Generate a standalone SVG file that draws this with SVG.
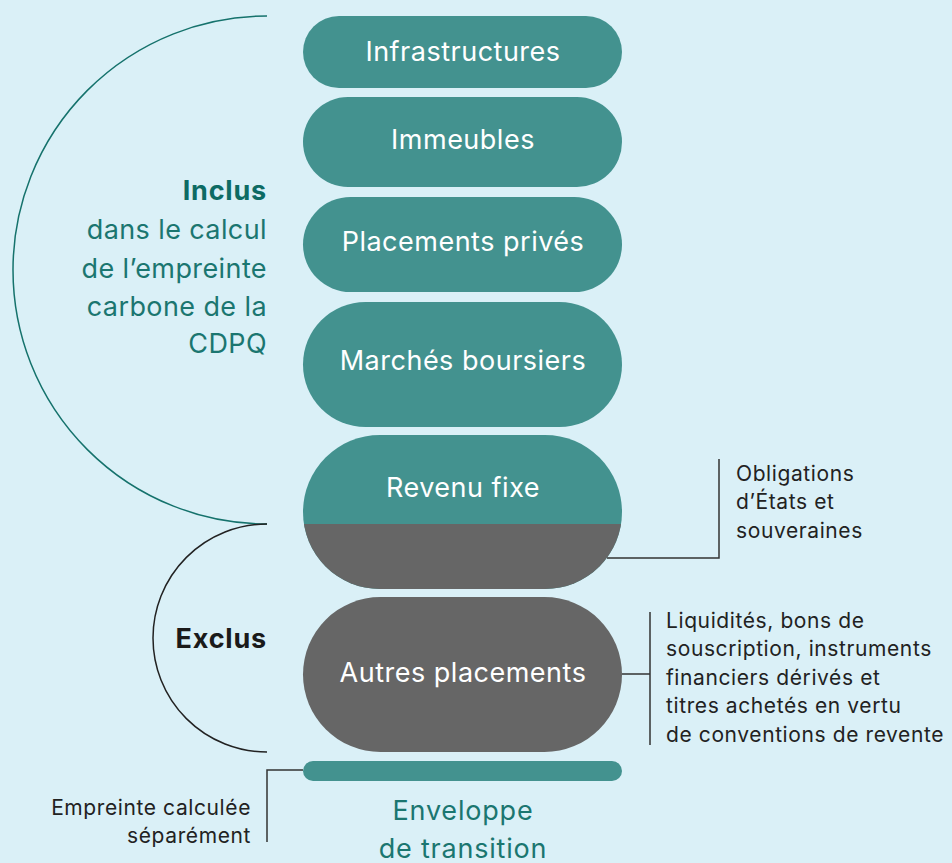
<svg xmlns="http://www.w3.org/2000/svg" width="952" height="863" viewBox="0 0 952 863">
<style>
.pill{fill:#43928f}
.grey{fill:#666666}
.pl{font-family:Inter,"Noto Sans",sans-serif;font-size:27px;letter-spacing:0.5px;fill:#ffffff;text-anchor:middle}
.note{font-family:Inter,"Noto Sans",sans-serif;font-size:21px;letter-spacing:0.6px;fill:#222222}
.side{font-family:Inter,"Noto Sans",sans-serif;font-size:27px;letter-spacing:0.4px;fill:#1b7670;text-anchor:end}
.env{font-family:Inter,"Noto Sans",sans-serif;font-size:27px;letter-spacing:0.8px;fill:#1b7670;text-anchor:middle}
.ln{fill:none;stroke:#333333;stroke-width:1.5}
</style>
<defs>
<clipPath id="rfclip"><rect x="303" y="435" width="319" height="154" rx="77"/></clipPath>
</defs>
<rect x="0" y="0" width="952" height="863" fill="#daf0f7"/>
<g id="connectors">
<path d="M267,16 A254,254 0 0 0 267,524" fill="none" stroke="#15726c" stroke-width="1.5"/>
<path d="M267,524 A114,114 0 0 0 267,752" fill="none" stroke="#222222" stroke-width="1.5"/>
<path class="ln" d="M607,558 H719 V459"/>
<path class="ln" d="M622,674 H650 M650,612 V745"/>
<path class="ln" d="M303,770 H267 V842"/>
</g>
<g id="infrastructures">
<rect class="pill" x="303" y="16" width="319" height="72" rx="36"/>
<text class="pl" x="463" y="61">Infrastructures</text>
</g>
<g id="immeubles">
<rect class="pill" x="303" y="97" width="319" height="90" rx="45"/>
<text class="pl" x="463" y="149">Immeubles</text>
</g>
<g id="placements-prives">
<rect class="pill" x="303" y="197" width="319" height="95" rx="47.5"/>
<text class="pl" x="463" y="251">Placements privés</text>
</g>
<g id="marches-boursiers">
<rect class="pill" x="303" y="302" width="319" height="125" rx="62.5"/>
<text class="pl" x="463" y="370">Marchés boursiers</text>
</g>
<g id="revenu-fixe">
<rect class="pill" x="303" y="435" width="319" height="154" rx="77"/>
<rect class="grey" x="303" y="524" width="319" height="65" clip-path="url(#rfclip)"/>
<text class="pl" x="463" y="497">Revenu fixe</text>
</g>
<g id="autres-placements">
<rect class="grey" x="303" y="597" width="319" height="155" rx="77.5"/>
<text class="pl" x="463" y="682">Autres placements</text>
</g>
<g id="enveloppe">
<rect class="pill" x="303" y="761" width="319" height="20" rx="10"/>
<text class="env" x="463" y="820">Enveloppe</text>
<text class="env" x="463" y="858">de transition</text>
</g>
<g id="inclus">
<text class="side" x="267" y="200" font-weight="bold" style="fill:#0d6b64;letter-spacing:0.8px">Inclus</text>
<text class="side" x="267" y="239">dans le calcul</text>
<text class="side" x="267" y="278">de l’empreinte</text>
<text class="side" x="267" y="316">carbone de la</text>
<text class="side" x="267" y="353">CDPQ</text>
</g>
<g id="exclus">
<text class="side" x="267" y="648" font-weight="bold" style="fill:#1a1a1a;letter-spacing:0.8px">Exclus</text>
</g>
<g id="obligations">
<text class="note" x="736" y="481">Obligations</text>
<text class="note" x="736" y="509">d’États et</text>
<text class="note" x="736" y="538">souveraines</text>
</g>
<g id="liquidites">
<text class="note" x="666" y="628">Liquidités, bons de</text>
<text class="note" x="666" y="656">souscription, instruments</text>
<text class="note" x="666" y="685">financiers dérivés et</text>
<text class="note" x="666" y="713">titres achetés en vertu</text>
<text class="note" x="666" y="742">de conventions de revente</text>
</g>
<g id="empreinte">
<text class="note" x="251" y="815" text-anchor="end">Empreinte calculée</text>
<text class="note" x="251" y="843" text-anchor="end">séparément</text>
</g>
</svg>
